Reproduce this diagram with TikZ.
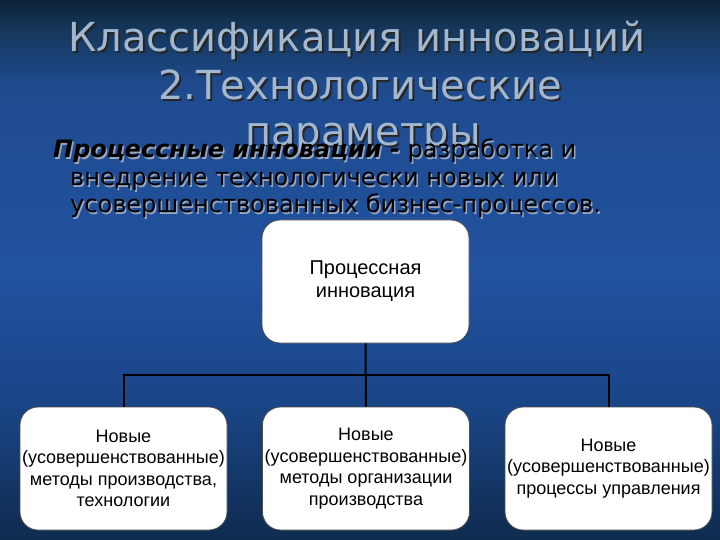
\documentclass[tikz,border=0pt]{standalone}
\usepackage{fontspec}
\setmainfont{DejaVu Sans}
\newfontfamily\boxfont{Liberation Sans}
\definecolor{bgA}{HTML}{0F2B4F}
\definecolor{bgB}{HTML}{1A4688}
\definecolor{bgC}{HTML}{2152A0}
\definecolor{bgD}{HTML}{1F4B8E}
\definecolor{bgE}{HTML}{153659}
\definecolor{bgF}{HTML}{0B2238}
\definecolor{titlecol}{HTML}{A3B8CE}
\definecolor{bodyshadow}{HTML}{9AA6BA}
\pgfdeclareverticalshading{bgshade}{100bp}{color(0bp)=(bgA); color(25bp)=(bgA); color(38bp)=(bgB); color(50bp)=(bgC); color(67bp)=(bgD); color(72.5bp)=(bgE); color(75bp)=(bgF); color(100bp)=(bgF)}
\tikzset{
  titletext/.style={inner sep=0pt, anchor=base, font=\fontsize{40}{48}\selectfont},
  bodytext/.style={inner sep=0pt, anchor=base west, font=\fontsize{24}{27}\selectfont},
  box/.style={draw=black!70, line width=0.8pt, fill=white, rounded corners=18pt,
    minimum width=207pt, minimum height=123pt, align=center, inner sep=2pt,
    font=\boxfont\fontsize{18}{21.5}\selectfont, text=black},
  topbox/.style={box, font=\boxfont\fontsize{20}{23}\selectfont},
  conn/.style={draw=black, line width=2pt}
}
\begin{document}
\begin{tikzpicture}[x=1pt,y=-1pt]
\useasboundingbox (0,0) rectangle (720,540);
\shade[shading=bgshade] (0,0) rectangle (720,540);
% title
\foreach \dx/\dy/\col in {2/2/black!85, 0/0/titlecol}{
  \node[titletext, text=\col] at (357+\dx,52+\dy) {Классификация инноваций};
  \node[titletext, text=\col] at (360+\dx,100+\dy) {2.Технологические};
  \node[titletext, text=\col] at (363+\dx,146+\dy) {параметры};
}
% body text
\foreach \dx/\dy/\col in {1.5/1.5/bodyshadow, 0/0/black}{
  \node[bodytext, text=\col] at (53+\dx,158+\dy) {\textbf{\textit{Процессные инновации -}} разработка и};
  \node[bodytext, text=\col] at (70+\dx,186+\dy) {внедрение технологически новых или};
  \node[bodytext, text=\col] at (70+\dx,213+\dy) {усовершенствованных бизнес-процессов.};
}
% boxes
\node[topbox] (top) at (365.5,281.5) {Процессная\\инновация};
\node[box] (b1) at (123.5,468.5) {Новые\\(усовершенствованные)\\методы производства,\\технологии};
\node[box] (b2) at (366,468.5) {Новые\\(усовершенствованные)\\методы организации\\производства};
\node[box] (b3) at (608.5,468.5) {Новые\\(усовершенствованные)\\процессы управления};
% connectors
\coordinate (j) at (366,375);
\draw[conn] (top.south) -- (b2.north);
\draw[conn] (b1.north) |- (j) -| (b3.north);
\end{tikzpicture}
\end{document}
